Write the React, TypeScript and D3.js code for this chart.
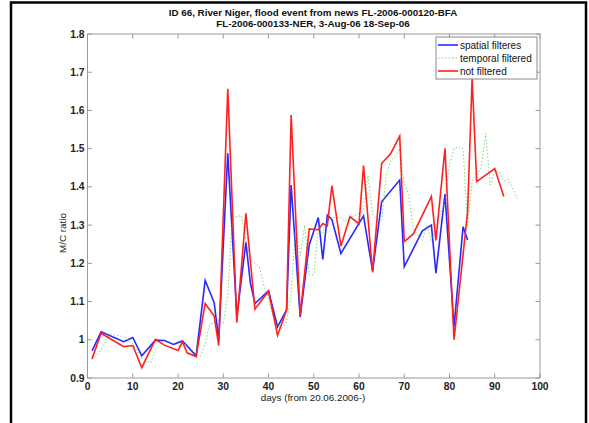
import React, { useRef, useEffect } from 'react';
import * as d3 from 'd3';

// spatial filtered (blue)
const spatialDays = [1, 3, 8, 10, 12, 15, 17, 19, 21, 24, 26, 28, 29, 31, 33, 35, 36, 37, 40, 42, 44, 45, 47, 49, 51, 52, 53, 54, 56, 61, 63, 65, 69, 70, 74, 76, 77, 79, 81, 83, 84];
const spatialValues = [0.971, 1.021, 0.995, 1.006, 0.958, 0.999, 0.998, 0.988, 0.997, 0.958, 1.155, 1.097, 0.999, 1.488, 1.06, 1.255, 1.148, 1.095, 1.128, 1.034, 1.078, 1.405, 1.06, 1.248, 1.32, 1.21, 1.326, 1.315, 1.226, 1.324, 1.18, 1.361, 1.418, 1.191, 1.285, 1.3, 1.174, 1.381, 1.034, 1.296, 1.261];

// temporal filtered (green dotted)
const temporalDays = [1, 2, 3, 5, 8, 10, 12, 13, 14, 15, 17, 19, 21, 22, 24, 25, 26, 27, 29, 30, 31, 32, 34, 35, 36, 37, 38, 39, 40, 41, 42, 43, 44, 45, 46, 47, 48, 49, 50, 51, 52, 53, 54, 56, 57, 58, 60, 61, 62, 63, 64, 65, 66, 67, 68, 69, 70, 71, 72, 74, 75, 76, 77, 78, 79, 80, 81, 82, 83, 84, 85, 86, 87, 88, 89, 90, 91, 92, 93, 95];
const temporalValues = [0.948, 0.96, 0.975, 1.015, 1.008, 0.99, 0.952, 0.944, 0.94, 0.975, 1.0, 0.99, 0.983, 0.99, 0.961, 0.958, 0.99, 1.04, 1.053, 1.04, 1.12, 1.32, 1.325, 1.26, 1.21, 1.2, 1.19, 1.14, 1.11, 1.06, 1.035, 1.03, 1.045, 1.12, 1.3, 1.22, 1.3, 1.17, 1.17, 1.29, 1.28, 1.31, 1.32, 1.32, 1.31, 1.32, 1.33, 1.34, 1.43, 1.33, 1.31, 1.31, 1.43, 1.47, 1.48, 1.5, 1.41, 1.38, 1.29, 1.26, 1.3, 1.26, 1.3, 1.33, 1.36, 1.46, 1.5, 1.505, 1.5, 1.3, 1.415, 1.43, 1.45, 1.54, 1.405, 1.443, 1.44, 1.415, 1.42, 1.37];

// not filtered (red)
const rawDays = [1, 3, 8, 10, 12, 15, 17, 20, 21, 22, 24, 26, 28, 29, 31, 33, 35, 37, 40, 42, 44, 45, 47, 49, 51, 52, 53, 54, 56, 58, 60, 61, 63, 65, 67, 69, 70, 72, 76, 77, 79, 81, 84, 85, 86, 90, 92];
const rawValues = [0.95, 1.017, 0.982, 0.985, 0.927, 1.001, 0.986, 0.972, 0.995, 0.966, 0.956, 1.095, 1.062, 0.985, 1.657, 1.045, 1.331, 1.08, 1.127, 1.012, 1.078, 1.588, 1.063, 1.29, 1.288, 1.304, 1.298, 1.403, 1.245, 1.322, 1.303, 1.456, 1.176, 1.461, 1.487, 1.533, 1.257, 1.277, 1.375, 1.26, 1.501, 1.0, 1.335, 1.685, 1.414, 1.448, 1.375];

const xTicks = [0, 10, 20, 30, 40, 50, 60, 70, 80, 90, 100];
const yTicks = [0.9, 1.0, 1.1, 1.2, 1.3, 1.4, 1.5, 1.6, 1.7, 1.8];
const yTickLabels = ['0.9', '1', '1.1', '1.2', '1.3', '1.4', '1.5', '1.6', '1.7', '1.8'];
const legendLabels = ['spatial filteres', 'temporal filtered', 'not filtered'];
const titleLines = ['ID 66, River Niger, flood event from news FL-2006-000120-BFA', 'FL-2006-000133-NER, 3-Aug-06 18-Sep-06'];

const FONT = '"Liberation Sans", Arial, sans-serif';

const App = () => {
  const svgRef = useRef<SVGSVGElement>(null);

  useEffect(() => {
    document.body.style.margin = '0';
    const width = 589;
    const height = 423;
    const left = 87.5, right = 540, top = 34, bottom = 378;

    const svg = d3.select(svgRef.current);
    svg.selectAll('*').remove();
    svg.attr('width', width).attr('height', height);

    svg.append('rect').attr('width', width).attr('height', height).attr('fill', '#fff');

    // outer black frame
    svg.append('path')
      .attr('d', 'M11,430 L11,2.5 L586,2.5 L586,430')
      .attr('fill', 'none')
      .attr('stroke', '#000')
      .attr('stroke-width', 2.5);

    const x = d3.scaleLinear().domain([0, 100]).range([left, right]);
    const y = d3.scaleLinear().domain([0.9, 1.8]).range([bottom, top]);

    const g = svg.append('g');

    // box
    g.append('rect')
      .attr('x', left).attr('y', top)
      .attr('width', right - left).attr('height', bottom - top)
      .attr('fill', 'none').attr('stroke', '#9a9a9a').attr('stroke-width', 1);

    const tl = 4.5;
    xTicks.forEach(t => {
      g.append('line').attr('x1', x(t)).attr('x2', x(t)).attr('y1', bottom).attr('y2', bottom - tl).attr('stroke', '#9a9a9a');
      g.append('line').attr('x1', x(t)).attr('x2', x(t)).attr('y1', top).attr('y2', top + tl).attr('stroke', '#9a9a9a');
      g.append('text').attr('x', x(t)).attr('y', 390).attr('text-anchor', 'middle')
        .attr('font-family', FONT).attr('font-size', 10.3).attr('font-weight', 'bold').attr('fill', '#222')
        .text(String(t));
    });
    yTicks.forEach((t, i) => {
      g.append('line').attr('x1', left).attr('x2', left + tl).attr('y1', y(t)).attr('y2', y(t)).attr('stroke', '#9a9a9a');
      g.append('line').attr('x1', right).attr('x2', right - tl).attr('y1', y(t)).attr('y2', y(t)).attr('stroke', '#9a9a9a');
      g.append('text').attr('x', 84.5).attr('y', y(t) + 3.5).attr('text-anchor', 'end')
        .attr('font-family', FONT).attr('font-size', 10.3).attr('font-weight', 'bold').attr('fill', '#222')
        .text(yTickLabels[i]);
    });

    const line = d3.line<[number, number]>().x(d => x(d[0])).y(d => y(d[1]));
    const plot = g.append('g');
    plot.append('path')
      .attr('d', line(spatialDays.map((d, i) => [d, spatialValues[i]]) as [number, number][]))
      .attr('fill', 'none').attr('stroke', '#2828ff').attr('stroke-width', 1.6);
    plot.append('path')
      .attr('d', line(temporalDays.map((d, i) => [d, temporalValues[i]]) as [number, number][]))
      .attr('fill', 'none').attr('stroke', '#44cc44').attr('stroke-width', 1).attr('stroke-opacity', 0.7)
      .attr('stroke-dasharray', '1.5,2');
    plot.append('path')
      .attr('d', line(rawDays.map((d, i) => [d, rawValues[i]]) as [number, number][]))
      .attr('fill', 'none').attr('stroke', '#ff2020').attr('stroke-width', 1.6);

    // title
    titleLines.forEach((t, i) => {
      svg.append('text').attr('x', 313).attr('y', 15.5 + i * 11.5).attr('text-anchor', 'middle')
        .attr('font-family', FONT).attr('font-size', 9.8).attr('font-weight', 'bold').attr('fill', '#111')
        .text(t);
    });

    // axis labels
    svg.append('text').attr('x', 313).attr('y', 401).attr('text-anchor', 'middle')
      .attr('font-family', FONT).attr('font-size', 9.8).attr('fill', '#222')
      .text('days (from 20.06.2006-)');
    svg.append('text').attr('transform', 'translate(66,233) rotate(-90)').attr('text-anchor', 'middle')
      .attr('font-family', FONT).attr('font-size', 9.8).attr('fill', '#222')
      .text('M/C ratio');

    // legend
    const lg = svg.append('g');
    lg.append('rect').attr('x', 436).attr('y', 37).attr('width', 101).attr('height', 42)
      .attr('fill', '#fff').attr('stroke', '#8a8a8a').attr('stroke-width', 1);
    const styles = [
      { c: '#2828ff', w: 1.6, dash: null, op: 1 },
      { c: '#44cc44', w: 1, dash: '1.5,2', op: 0.7 },
      { c: '#ff2020', w: 1.6, dash: null, op: 1 },
    ];
    legendLabels.forEach((lab, i) => {
      const yy = 45 + i * 13;
      const s = styles[i];
      const l = lg.append('line').attr('x1', 438).attr('x2', 458).attr('y1', yy).attr('y2', yy)
        .attr('stroke', s.c).attr('stroke-width', s.w).attr('stroke-opacity', s.op);
      if (s.dash) l.attr('stroke-dasharray', s.dash);
      lg.append('text').attr('x', 460).attr('y', yy + 3.5)
        .attr('font-family', FONT).attr('font-size', 10).attr('fill', '#111')
        .text(lab);
    });
  }, []);

  return <svg ref={svgRef} style={{ display: 'block' }}></svg>;
};

export default App;
